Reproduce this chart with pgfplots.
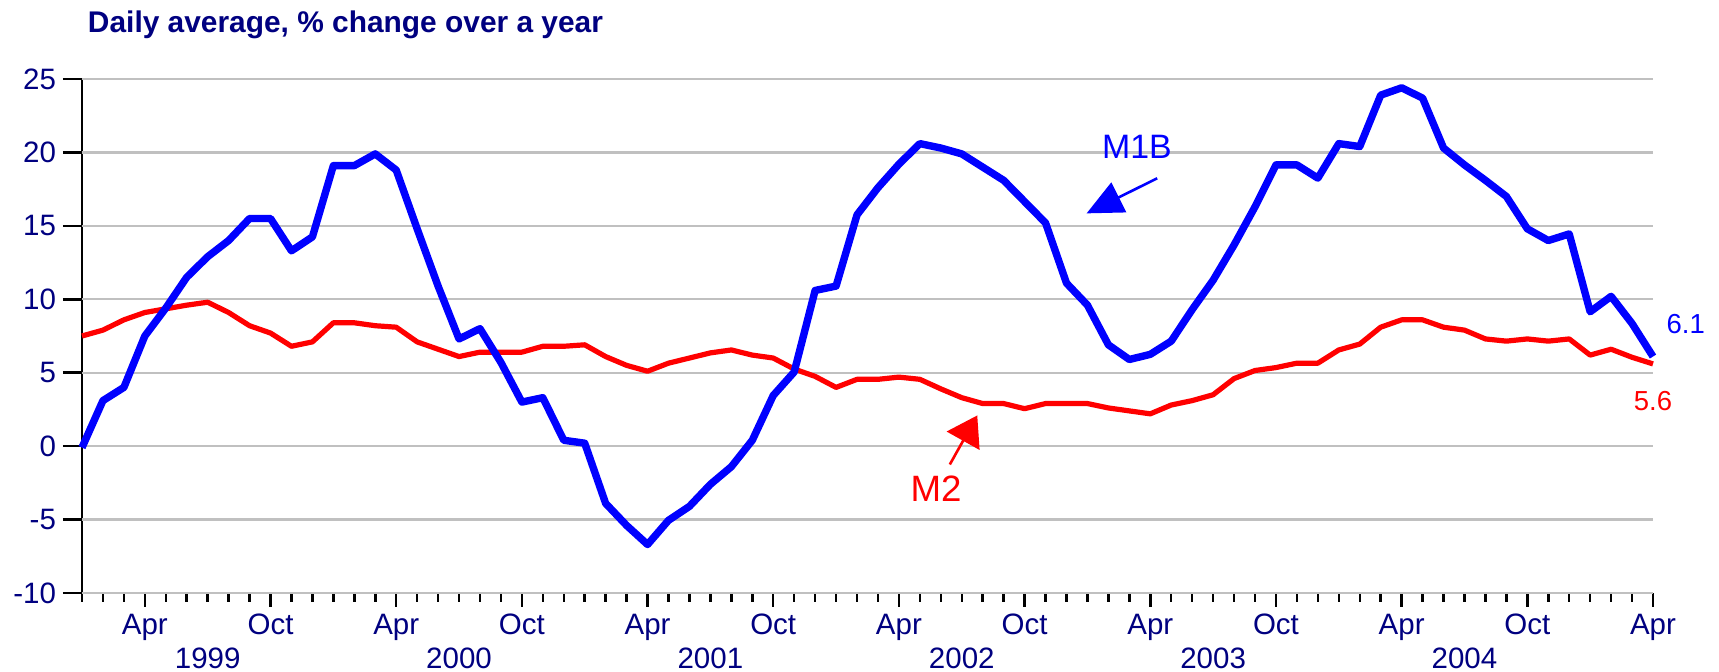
\documentclass[border=0pt]{standalone}
\usepackage{pgfplots}
\pgfplotsset{compat=1.18}
\usepackage{pgfplotstable}
\usepackage{fontspec}
\setmainfont{Liberation Sans}
\usetikzlibrary{arrows.meta}
\definecolor{navy}{RGB}{0,0,128}
\definecolor{gridgray}{RGB}{192,192,192}

\pgfplotstableread{
i m1b m2
0 -0.1 7.5
1 3.1 7.9
2 4.0 8.6
3 7.5 9.1
4 9.4 9.35
5 11.5 9.6
6 12.9 9.8
7 14.0 9.1
8 15.5 8.2
9 15.5 7.7
10 13.3 6.8
11 14.25 7.1
12 19.1 8.4
13 19.1 8.4
14 19.9 8.2
15 18.8 8.1
16 14.8 7.1
17 10.9 6.6
18 7.3 6.1
19 8.0 6.4
20 5.7 6.4
21 3.0 6.4
22 3.3 6.8
23 0.4 6.8
24 0.2 6.9
25 -3.9 6.1
26 -5.4 5.5
27 -6.7 5.1
28 -5.05 5.65
29 -4.1 6.0
30 -2.6 6.35
31 -1.4 6.55
32 0.4 6.2
33 3.45 6.0
34 5.05 5.25
35 10.6 4.75
36 10.9 4.0
37 15.75 4.55
38 17.6 4.55
39 19.2 4.7
40 20.6 4.55
41 20.3 3.9
42 19.9 3.3
43 19.0 2.9
44 18.1 2.9
45 16.65 2.55
46 15.2 2.9
47 11.1 2.9
48 9.6 2.9
49 6.9 2.6
50 5.9 2.4
51 6.25 2.2
52 7.15 2.8
53 9.3 3.1
54 11.3 3.5
55 13.7 4.6
56 16.3 5.15
57 19.15 5.35
58 19.15 5.65
59 18.25 5.65
60 20.6 6.55
61 20.4 6.95
62 23.9 8.1
63 24.4 8.6
64 23.7 8.6
65 20.3 8.1
66 19.15 7.9
67 18.1 7.3
68 17.0 7.15
69 14.8 7.3
70 14.0 7.15
71 14.45 7.3
72 9.15 6.2
73 10.2 6.6
74 8.35 6.05
75 6.1 5.6
}\data

\begin{document}
\begin{tikzpicture}
\begin{axis}[
 scale only axis, width=785.5bp, height=257bp,
 xmin=0, xmax=75, ymin=-10, ymax=25,
 axis x line*=bottom, axis y line*=left,
 axis line style={line width=1.35bp, black},
 clip=false,
 tick align=outside,
 ytick=\empty,
 extra y ticks={-10,-5,...,25},
 extra y tick labels={-10,-5,0,5,10,15,20,25},
 extra y tick style={major tick length=9.5bp, grid=major},
 grid style={gridgray, line width=1.1bp},
 xtick={0,...,75},
 xticklabels={},
 major tick length=4.5bp,
 tick style={black, line width=1.25bp},
 tick label style={font=\fontsize{14.8}{16}\selectfont, text=navy},
 extra x ticks={3,9,...,75},
 extra x tick labels={Apr,Oct,Apr,Oct,Apr,Oct,Apr,Oct,Apr,Oct,Apr,Oct,Apr},
 extra x tick style={major tick length=7bp},
]
\coordinate (O) at (rel axis cs:0,0);
\addplot[red, line width=2.6bp, line join=round] table[x=i,y=m2]{\data};
\addplot[blue, line width=3.7bp, line join=round] table[x=i,y=m1b]{\data};
\node[text=blue, font=\fontsize{17}{20}\selectfont] at (axis cs:50.36,20.35) {M1B};
\draw[blue, line width=1.3bp, -{Triangle[length=18bp,width=16.5bp]}] (axis cs:51.33,18.24) -- (axis cs:47.96,15.85);
\node[text=red, font=\fontsize{18.4}{21}\selectfont] at (axis cs:40.77,-2.9) {M2};
\draw[red, line width=1.3bp, -{Triangle[length=14.5bp,width=18.6bp]}] (axis cs:41.43,-1.25) -- (axis cs:42.74,2.09);
\node[text=blue, font=\fontsize{13.8}{16}\selectfont] at (axis cs:76.56,8.34) {6.1};
\node[text=red, font=\fontsize{13.8}{16}\selectfont] at (axis cs:75.0,3.1) {5.6};
\node[anchor=base, text=navy, font=\fontsize{14.8}{16}\selectfont, yshift=-37.5bp] at (axis cs:6,-10) {1999};
\node[anchor=base, text=navy, font=\fontsize{14.8}{16}\selectfont, yshift=-37.5bp] at (axis cs:18,-10) {2000};
\node[anchor=base, text=navy, font=\fontsize{14.8}{16}\selectfont, yshift=-37.5bp] at (axis cs:30,-10) {2001};
\node[anchor=base, text=navy, font=\fontsize{14.8}{16}\selectfont, yshift=-37.5bp] at (axis cs:42,-10) {2002};
\node[anchor=base, text=navy, font=\fontsize{14.8}{16}\selectfont, yshift=-37.5bp] at (axis cs:54,-10) {2003};
\node[anchor=base, text=navy, font=\fontsize{14.8}{16}\selectfont, yshift=-37.5bp] at (axis cs:66,-10) {2004};
\node[anchor=base west, inner sep=0pt, xshift=2.8bp, yshift=23.5bp, text=navy, font=\bfseries\fontsize{15}{17}\selectfont] at (rel axis cs:0,1) {Daily average, \% change over a year};
\end{axis}
\pgfresetboundingbox
\path[use as bounding box] ([shift={(-41bp,-39.5bp)}]O) rectangle ([shift={(818.5bp,296.5bp)}]O);
\end{tikzpicture}
\end{document}
